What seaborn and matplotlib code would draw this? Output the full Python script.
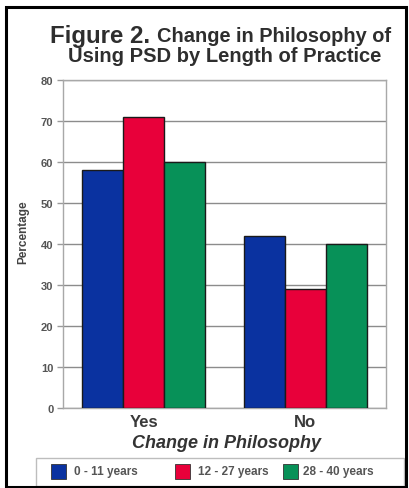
import matplotlib
matplotlib.use("Agg")
import matplotlib.pyplot as plt
from matplotlib.patches import Rectangle
import seaborn as sns
import pandas as pd

# Survey results: share of respondents who changed their philosophy of PSD use
answers = ["Yes", "No"]
practice_groups = ["0 - 11 years", "12 - 27 years", "28 - 40 years"]
pct_0_11 = [58, 42]
pct_12_27 = [71, 29]
pct_28_40 = [60, 40]
y_ticks = [0, 10, 20, 30, 40, 50, 60, 70, 80]

df = pd.DataFrame({
    "answer": answers * 3,
    "group": [g for g in practice_groups for _ in answers],
    "pct": pct_0_11 + pct_12_27 + pct_28_40,
})

palette = ["#0a32a0", "#e8003a", "#079158"]
W, H = 409, 489


def fx(px):
    return px / W


def fy(py):
    return 1 - py / H


sns.set_theme(style="white")
plt.rcParams["font.family"] = ["Liberation Sans", "DejaVu Sans"]

fig = plt.figure(figsize=(W / 100, H / 100), dpi=100)
ax = fig.add_axes([fx(63), fy(409), (386 - 63) / W, (409 - 81) / H])

sns.barplot(data=df, x="answer", y="pct", hue="group", order=answers,
            hue_order=practice_groups, palette=palette, width=0.76,
            edgecolor="#1a1a1a", linewidth=1.0, saturation=1, ax=ax,
            legend=False, zorder=3)

ax.set_ylim(0, 80)
ax.set_xlim(-0.5, 1.5)
ax.set_yticks(y_ticks)
ax.set_yticklabels([str(t) for t in y_ticks], fontsize=8, fontweight="bold",
                   color="#555555")
ax.yaxis.grid(True, color="#8c8c8c", linewidth=1.0, zorder=0)
ax.tick_params(axis="y", which="both", left=True, length=4, width=1.0,
               color="#9a9a9a", pad=3)
ax.tick_params(axis="x", length=0, pad=4)
for s in ax.spines.values():
    s.set_color("#a8a8a8")
    s.set_linewidth(1.0)

ax.set_xticks([0, 1])
ax.set_xticklabels(answers, fontsize=12, fontweight="bold", color="#3a3a3a")
ax.set_xlabel("")
ax.set_ylabel("")

fig.text(fx(23), fy(232), "Percentage", rotation=90, ha="center",
         va="center", fontsize=8.5, fontweight="bold", color="#444444")
fig.text(fx(226), fy(448), "Change in Philosophy", ha="center",
         va="baseline", fontsize=13, fontweight="bold", style="italic",
         color="#333333")

# Title: larger "Figure 2." run followed by the rest of the first line
fig.text(fx(50), fy(42.5), "Figure 2.", ha="left", va="baseline",
         fontsize=17.3, fontweight="bold", color="#2e2e2e")
fig.text(fx(391), fy(42.5), "Change in Philosophy of", ha="right",
         va="baseline", fontsize=14.4, fontweight="bold", color="#2e2e2e")
fig.text(fx(225), fy(62), "Using PSD by Length of Practice",
         ha="center", va="baseline", fontsize=14.5, fontweight="bold",
         color="#2e2e2e")

# Legend row
fig.patches.append(Rectangle((fx(36), fy(487)), (404 - 36) / W, 28 / H,
                             transform=fig.transFigure, facecolor="white",
                             edgecolor="#bdbdbd", linewidth=1.0))
sq_x = [51, 175, 283]
txt_x = [74, 198, 303]
for sx, tx, col, lab in zip(sq_x, txt_x, palette, practice_groups):
    fig.patches.append(Rectangle((fx(sx), fy(480)), 15 / W, 15 / H,
                                 transform=fig.transFigure, facecolor=col,
                                 edgecolor="#333333", linewidth=0.6))
    fig.text(fx(tx), fy(472.5), lab, ha="left", va="center",
             fontsize=8.5, fontweight="bold", color="#555555")

# Outer frame
fig.patches.append(Rectangle((fx(5.5), fy(487.5)), (405.5 - 5.5) / W,
                             (487.5 - 7.5) / H, transform=fig.transFigure,
                             facecolor="none", edgecolor="black",
                             linewidth=2.2))

fig.savefig("out.png", dpi=100)
